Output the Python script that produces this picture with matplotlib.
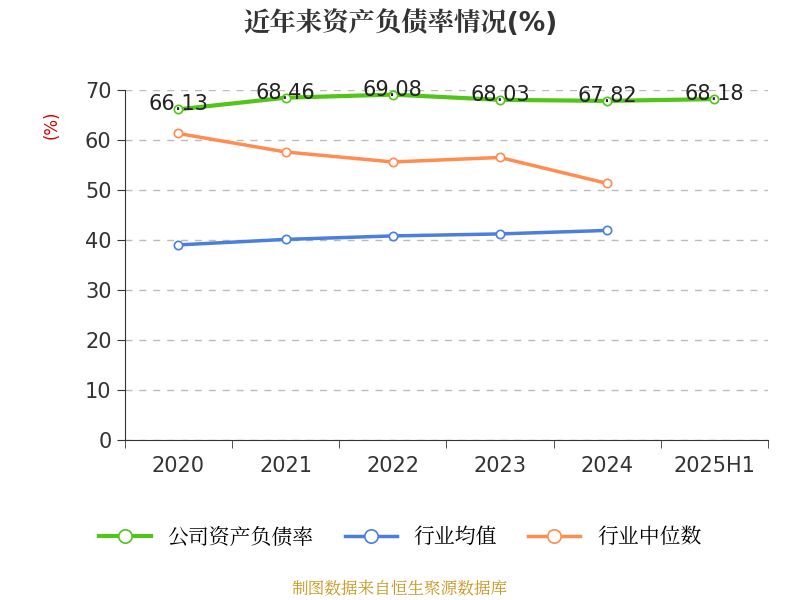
import matplotlib.pyplot as plt
from matplotlib import font_manager
import numpy as np
import glob

# find a CJK font file and register it
cjk_name = "Noto Sans CJK SC"
for path in glob.glob("/usr/share/fonts/**/*", recursive=True):
    if "CJK" in path and path.lower().endswith((".ttc", ".otf", ".ttf")):
        font_manager.fontManager.addfont(path)
names = [f.name for f in font_manager.fontManager.ttflist if "CJK" in f.name]
if names and cjk_name not in names:
    cjk_name = names[0]
plt.rcParams["font.family"] = ["DejaVu Sans", cjk_name]
plt.rcParams["font.sans-serif"] = ["DejaVu Sans", cjk_name]

years = ["2020", "2021", "2022", "2023", "2024", "2025H1"]
company = [66.13, 68.46, 69.08, 68.03, 67.82, 68.18]
industry_avg = [39.0, 40.1, 40.8, 41.2, 41.9]
industry_median = [61.3, 57.6, 55.6, 56.5, 51.3]

fig = plt.figure(figsize=(8, 6), dpi=100)
ax = fig.add_axes([0.156, 0.267, 0.804, 0.583])

x = np.arange(len(years))
ax.plot(x, company, color="#52c41a", linewidth=3, marker="o", markersize=6,
        markerfacecolor="white", markeredgewidth=1.2, label="公司资产负债率", zorder=3)
ax.plot(x[:len(industry_avg)], industry_avg, color="#4a7fe0", linewidth=2.5, marker="o",
        markersize=6, markerfacecolor="white", markeredgewidth=1.2, label="行业均值", zorder=3)
ax.plot(x[:len(industry_median)], industry_median, color="#ff8c50", linewidth=2.5, marker="o",
        markersize=6, markerfacecolor="white", markeredgewidth=1.2, label="行业中位数", zorder=3)

for xi, v in zip(x, company):
    ax.text(xi, v - 1.0, f"{v:.2f}", ha="center", va="bottom", fontsize=15,
            color="#222222", zorder=4)

ax.set_xlim(-0.5, len(years) - 0.5)
ax.set_ylim(0, 70)
ax.set_yticks(range(0, 71, 10))
ax.set_xticks(x)
ax.set_xticklabels(years, fontsize=15, color="#333333")
ax.set_xticks(np.arange(-0.5, len(years), 1), minor=True)
ax.tick_params(axis="x", which="major", length=0, pad=12)
ax.tick_params(axis="x", which="minor", length=6, color="#333333")
ax.tick_params(axis="y", labelsize=15, labelcolor="#333333", length=6, color="#333333")
ax.grid(axis="y", linestyle=(0, (5, 5)), color="#bbbbbb", linewidth=1)
for s in ["top", "right"]:
    ax.spines[s].set_visible(False)
ax.spines["left"].set_color("#333333")
ax.spines["bottom"].set_color("#333333")
ax.set_ylabel("(%)", color="#dd0000", fontsize=12, labelpad=0)
ax.yaxis.set_label_coords(-0.1, 0.9)

fig.text(0.5, 0.96, "近年来资产负债率情况(%)", ha="center", va="center",
         fontsize=19, fontweight="bold", color="#333333")
fig.legend(loc="center", bbox_to_anchor=(0.5, 0.105), ncol=3, frameon=False,
           fontsize=15, handlelength=2.5, columnspacing=1.5, markerscale=1.6)
fig.text(0.5, 0.018, "制图数据来自恒生聚源数据库", ha="center", va="center",
         fontsize=12, color="#c8961e")

fig.savefig("out.png", dpi=100)
